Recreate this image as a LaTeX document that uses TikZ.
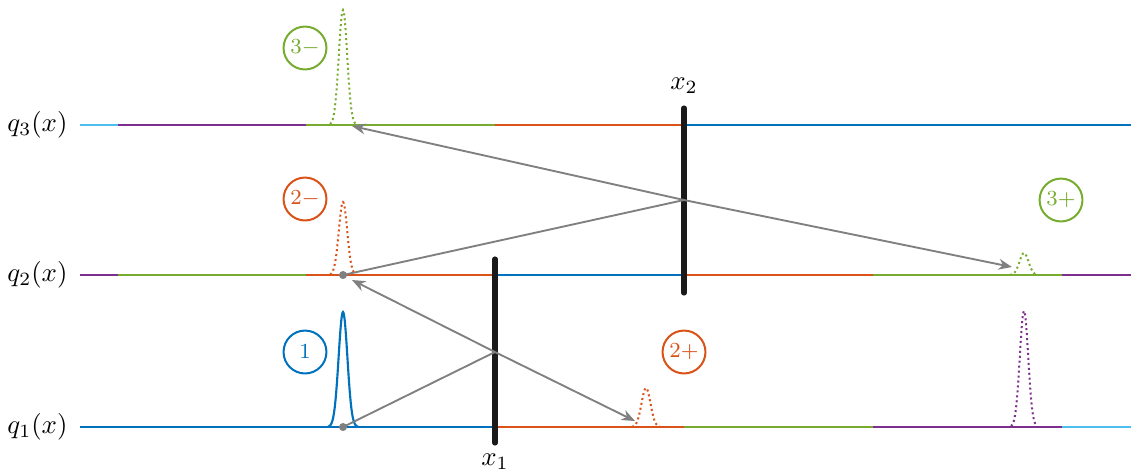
\documentclass[tikz,border=0pt]{standalone}
\usetikzlibrary{arrows.meta}
\definecolor{mblue}{RGB}{0,114,189}
\definecolor{morange}{RGB}{217,83,25}
\definecolor{mgreen}{RGB}{119,172,48}
\definecolor{mpurple}{RGB}{126,47,142}
\definecolor{mcyan}{RGB}{77,190,238}
\definecolor{mgray}{RGB}{128,128,128}
\definecolor{mblack}{RGB}{26,26,26}
\tikzset{
  seg/.style={line width=0.85pt},
  barrier/.style={line width=1.9pt, mblack, line cap=round},
  ray/.style={line width=0.7pt, mgray},
  rayarrow/.style={ray, -{Stealth[length=5pt,width=4pt]}},
  pulsedot/.style={line width=0.75pt, dash pattern=on 0.75pt off 1.1pt},
  pulsesolid/.style={line width=0.8pt},
  tag/.style={circle, draw, line width=0.75pt, minimum size=16pt, inner sep=0pt, font=\footnotesize},
  dotpt/.style={circle, fill=mgray, inner sep=0pt, minimum size=3pt},
}
\begin{document}
\begin{tikzpicture}[x=0.0131cm, y=-0.0131cm]
\useasboundingbox (0,0) rectangle (1131,474);
% labels
\node[anchor=east, inner sep=0pt] (l3) at (68,125) {$q_3(x)$};
\node[anchor=east, inner sep=0pt] (l2) at (68,275) {$q_2(x)$};
\node[anchor=east, inner sep=0pt] (l1) at (68,427) {$q_1(x)$};
% q3
\draw[seg, mcyan] (80,125) -- (118,125);
\draw[seg, mpurple] (118,125) -- (306,125);
\draw[seg, mgreen] (306,125) -- (495,125);
\draw[seg, morange] (495,125) -- (684,125);
\draw[seg, mblue] (684,125) -- (1131,125);
% q2
\draw[seg, mpurple] (80,275) -- (118,275);
\draw[seg, mgreen] (118,275) -- (306,275);
\draw[seg, morange] (306,275) -- (495,275);
\draw[seg, mblue] (495,275) -- (684,275);
\draw[seg, morange] (684,275) -- (873,275);
\draw[seg, mgreen] (873,275) -- (1062,275);
\draw[seg, mpurple] (1062,275) -- (1131,275);
% q1
\draw[seg, mblue] (80,427) -- (495,427);
\draw[seg, morange] (495,427) -- (684,427);
\draw[seg, mgreen] (684,427) -- (873,427);
\draw[seg, mpurple] (873,427) -- (1062,427);
\draw[seg, mcyan] (1062,427) -- (1131,427);
% pulses
\draw[pulsesolid, mblue] plot[domain=-15:15, samples=61, smooth] ({343+\x},{427-115*exp(-(\x)^2/(2*4.4^2))});
\draw[pulsedot, morange] plot[domain=-13:13, samples=41, smooth] ({343+\x},{275-73*exp(-(\x)^2/(2*4.2^2))});
\draw[pulsedot, mgreen] plot[domain=-13:13, samples=41, smooth] ({343+\x},{125-115*exp(-(\x)^2/(2*4.2^2))});
\draw[pulsedot, morange] plot[domain=-14:14, samples=41, smooth] ({646+\x},{427-39*exp(-(\x)^2/(2*4.5^2))});
\draw[pulsedot, mgreen] plot[domain=-14:14, samples=41, smooth] ({1024+\x},{275-22*exp(-(\x)^2/(2*4.5^2))});
\draw[pulsedot, mpurple] plot[domain=-13:13, samples=41, smooth] ({1024+\x},{427-116*exp(-(\x)^2/(2*4.2^2))});
% barriers
\coordinate (b1t) at (495,259);
\coordinate (b1b) at (495,443);
\coordinate (b2t) at (684,108);
\coordinate (b2b) at (684,293);
\draw[barrier] (b1t) -- (b1b);
\draw[barrier] (b2t) -- (b2b);
\node (x1) at (495,462) {$x_1$};
\node (x2) at (684,86) {$x_2$};
% rays
\coordinate (c1) at (495,352);
\coordinate (c2) at (684,200);
\node[dotpt] (d1) at (343,427) {};
\node[dotpt] (d2) at (343,275) {};
\coordinate (e1) at (352,280);
\coordinate (e2) at (635,421);
\coordinate (e3) at (352,126);
\coordinate (e4) at (1012,267);
\draw[ray] (d1.center) -- (c1);
\draw[ray] (d2.center) -- (c2);
\draw[rayarrow] (c1) -- (e1);
\draw[rayarrow] (c1) -- (e2);
\draw[rayarrow] (c2) -- (e3);
\draw[rayarrow] (c2) -- (e4);
% tags
\node[tag, mgreen] (t3m) at (305,48) {$3-$};
\node[tag, morange] (t2m) at (305,199) {$2-$};
\node[tag, mblue] (t1) at (305,352) {$1$};
\node[tag, morange] (t2p) at (684,352) {$2+$};
\node[tag, mgreen] (t3p) at (1061,200) {$3+$};
\end{tikzpicture}
\end{document}
